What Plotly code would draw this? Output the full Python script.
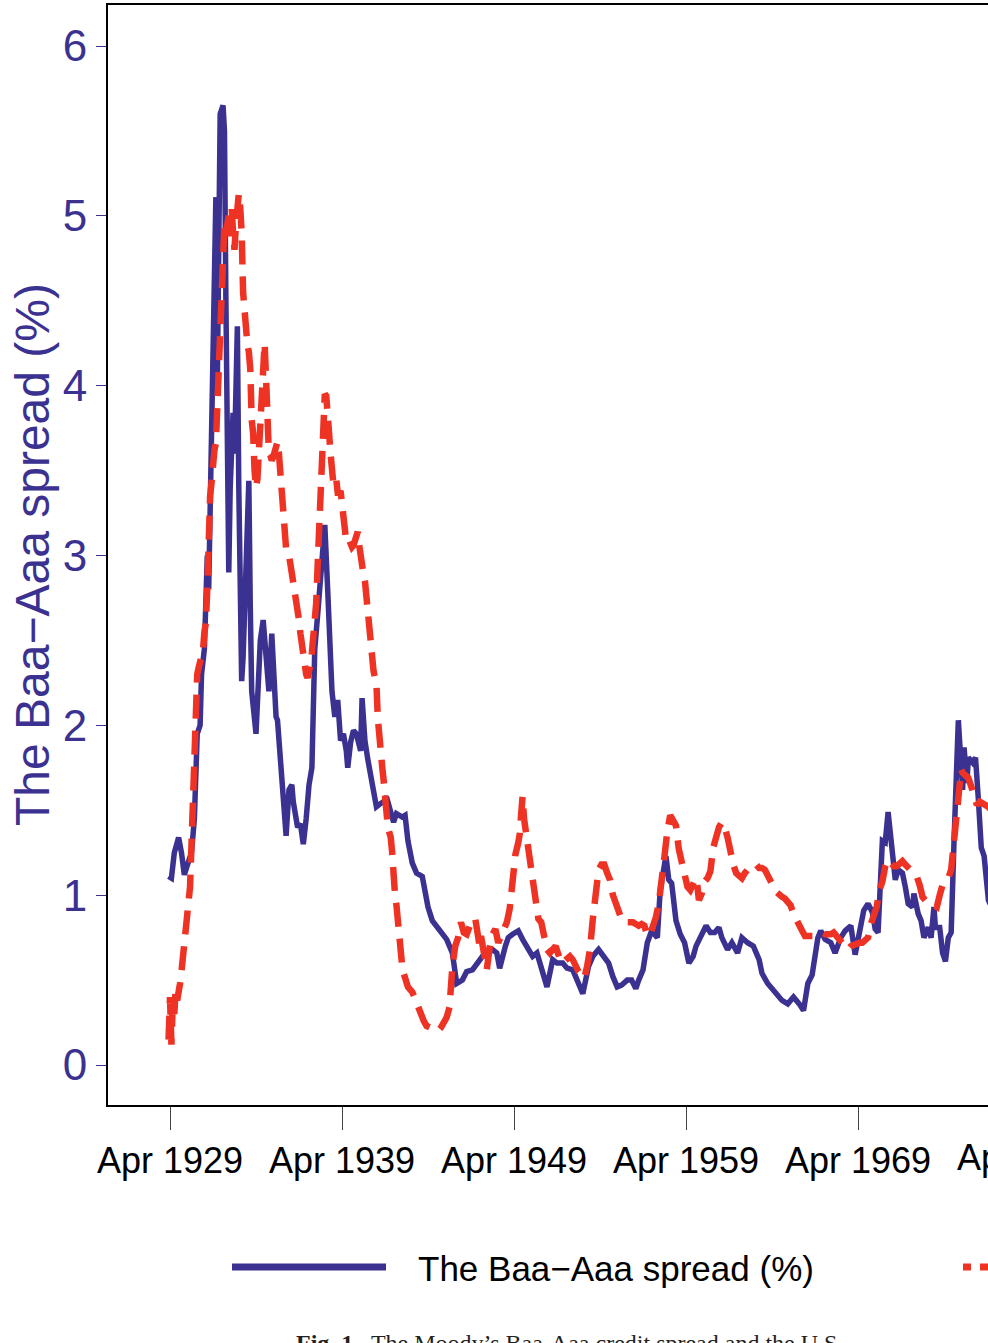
import plotly.graph_objects as go

# ---------------- data ----------------
spread_dates = [
    "1929-03","1929-05","1929-07","1929-10","1929-12","1930-02","1930-05","1930-07","1930-09","1930-10",
    "1930-11","1931-01","1931-02","1931-04","1931-06","1931-07","1931-09","1931-10","1931-11","1931-12",
    "1932-01","1932-02","1932-03","1932-05","1932-06","1932-07","1932-08","1932-09","1932-10","1932-12",
    "1933-01","1933-03","1933-04","1933-05","1933-06","1933-07","1933-09","1933-11","1933-12","1934-01",
    "1934-04","1934-05","1934-07","1934-09","1934-11","1935-01","1935-03","1935-05","1935-06","1935-07",
    "1935-09","1935-11","1936-01","1936-03","1936-05","1936-06","1936-09","1936-11","1937-01","1937-03",
    "1937-05","1937-07","1937-09","1937-11","1938-01","1938-04","1938-06","1938-08","1938-09","1938-11",
    "1939-01","1939-03","1939-05","1939-07","1939-08","1939-10","1939-12","1940-02","1940-05","1940-06",
    "1940-08","1940-10","1940-12","1941-02","1941-04","1941-07","1941-09","1941-11","1942-02","1942-04",
    "1942-06","1942-10","1942-12","1943-02","1943-05","1943-08","1943-12","1944-02","1944-04","1944-07",
    "1944-11","1945-02","1945-05","1945-09","1945-12","1946-04","1946-07","1946-11","1947-02","1947-06",
    "1947-09","1948-01","1948-04","1948-06","1948-10","1948-12","1949-03","1949-07","1949-10","1950-01",
    "1950-05","1950-08","1950-12","1951-03","1951-07","1951-10","1952-02","1952-05","1952-09","1952-12",
    "1953-02","1953-04","1953-08","1953-11","1954-03","1954-06","1954-10","1955-01","1955-04","1955-07",
    "1955-11","1956-02","1956-05","1956-07","1956-10","1957-01","1957-04","1957-08","1957-10","1958-02",
    "1958-04","1958-06","1958-09","1958-12","1959-03","1959-06","1959-09","1959-11","1960-02","1960-06",
    "1960-09","1960-12","1961-03","1961-05","1961-09","1961-12","1962-04","1962-07","1962-11","1963-03",
    "1963-07","1963-09","1964-01","1964-04","1964-08","1964-11","1965-03","1965-07","1965-11","1966-02",
    "1966-05","1966-08","1966-12","1967-02","1967-05","1967-09","1967-12","1968-04","1968-07","1968-11",
    "1969-02","1969-04","1969-08","1969-11","1970-02","1970-04","1970-06","1970-09","1970-11","1971-01",
    "1971-03","1971-06","1971-08","1971-11","1972-01","1972-03","1972-06","1972-07","1972-10","1972-12",
    "1973-02","1973-05","1973-07","1973-09","1973-10","1974-01","1974-03","1974-05","1974-07","1974-09",
    "1974-11","1975-01","1975-02","1975-05","1975-06","1975-08","1975-09","1975-12","1976-02","1976-04",
    "1976-06","1976-08","1976-11","1977-03",
]
spread_values = [
    1.11,1.10,1.25,1.34,1.25,1.12,1.20,1.25,1.45,1.70,
    1.95,2.00,2.30,2.45,3.00,2.80,3.60,4.05,4.40,5.11,
    4.00,4.80,5.60,5.65,5.50,4.50,3.50,2.90,3.40,3.84,
    3.60,4.35,3.40,2.60,2.26,2.40,3.00,3.44,2.70,2.20,
    1.95,2.20,2.50,2.62,2.40,2.20,2.54,2.20,2.05,2.03,
    1.80,1.60,1.35,1.62,1.65,1.55,1.40,1.42,1.30,1.45,
    1.65,1.75,2.45,2.65,2.90,3.18,2.80,2.44,2.20,2.05,
    2.15,1.91,1.95,1.85,1.75,1.90,1.97,1.95,1.85,2.16,
    1.91,1.80,1.70,1.58,1.52,1.54,1.55,1.58,1.48,1.43,
    1.48,1.46,1.47,1.32,1.19,1.13,1.11,1.01,0.93,0.85,
    0.81,0.77,0.74,0.66,0.48,0.50,0.55,0.56,0.60,0.64,
    0.65,0.68,0.66,0.57,0.70,0.75,0.77,0.79,0.74,0.70,
    0.64,0.66,0.56,0.46,0.62,0.60,0.60,0.57,0.56,0.50,
    0.44,0.42,0.58,0.64,0.68,0.64,0.60,0.52,0.46,0.47,
    0.50,0.50,0.45,0.50,0.56,0.72,0.79,0.75,1.03,1.23,
    1.09,1.07,0.85,0.77,0.72,0.60,0.64,0.70,0.75,0.82,
    0.78,0.78,0.81,0.75,0.68,0.72,0.66,0.75,0.72,0.70,
    0.62,0.54,0.48,0.45,0.42,0.38,0.36,0.40,0.36,0.32,
    0.48,0.53,0.75,0.79,0.74,0.72,0.66,0.75,0.79,0.82,
    0.65,0.74,0.91,0.95,0.90,0.80,0.78,1.32,1.31,1.49,
    1.34,1.09,1.15,1.13,1.05,0.95,0.93,1.01,0.89,0.85,
    0.75,0.81,0.75,0.93,0.81,0.81,0.66,0.61,0.75,0.78,
    1.32,1.72,2.03,1.62,1.87,1.66,1.81,1.78,1.81,1.56,
    1.28,1.23,0.97,0.90,
]

second_dates = [
    "1929-03","1929-04","1929-05","1929-06","1929-07","1929-08","1929-09","1929-10","1929-11","1929-12",
    "1930-01","1930-02","1930-03","1930-04","1930-05","1930-06","1930-07","1930-08","1930-09","1930-10",
    "1930-11","1930-12","1931-01","1931-02","1931-03","1931-04","1931-05","1931-06","1931-07","1931-08",
    "1931-09","1931-10","1931-11","1931-12","1932-01","1932-02","1932-03","1932-04","1932-05","1932-06",
    "1932-07","1932-08","1932-09","1932-10","1932-11","1932-12","1933-01","1933-02","1933-03","1933-04",
    "1933-05","1933-06","1933-07","1933-08","1933-09","1933-10","1933-11","1933-12","1934-01","1934-02",
    "1934-03","1934-04","1934-05","1934-06","1934-07","1934-08","1934-09","1934-10","1934-11","1934-12",
    "1935-01","1935-02","1935-03","1935-04","1935-05","1935-06","1935-07","1935-08","1935-09","1935-10",
    "1935-11","1935-12","1936-01","1936-02","1936-03","1936-04","1936-05","1936-06","1936-07","1936-08",
    "1936-09","1936-10","1936-11","1936-12","1937-01","1937-02","1937-03","1937-04","1937-05","1937-06",
    "1937-07","1937-08","1937-09","1937-10","1937-11","1937-12","1938-01","1938-02","1938-03","1938-04",
    "1938-05","1938-06","1938-07","1938-08","1938-09","1938-10","1938-11","1938-12","1939-01","1939-02",
    "1939-03","1939-04","1939-05","1939-06","1939-07","1939-08","1939-09","1939-10","1939-11","1939-12",
    "1940-01","1940-02","1940-03","1940-04","1940-05","1940-06","1940-07","1940-08","1940-09","1940-10",
    "1940-11","1940-12","1941-01","1941-02","1941-03","1941-04","1941-05","1941-06","1941-07","1941-08",
    "1941-09","1941-10","1941-11","1941-12","1942-01","1942-02","1942-03","1942-04","1942-05","1942-06",
    "1942-07","1942-08","1942-09","1942-10","1942-11","1942-12","1943-01","1943-02","1943-03",
    "1943-05","1943-07","1943-09","1943-11","1944-01","1944-03","1944-05","1944-07","1944-09","1944-11",
    "1945-01","1945-03","1945-05","1945-07","1945-08","1945-09","1945-11","1946-01","1946-03","1946-05",
    "1946-07","1946-09","1946-11","1947-01","1947-03","1947-04","1947-05","1947-07","1947-09","1947-11",
    "1948-01","1948-03","1948-05","1948-07","1948-09","1948-11","1949-01","1949-03","1949-05","1949-07",
    "1949-08","1949-09","1949-10","1949-11","1950-01","1950-03","1950-05","1950-07","1950-09","1950-11",
    "1951-01","1951-03","1951-05","1951-07","1951-09","1951-11","1952-01","1952-03","1952-05","1952-07",
    "1952-09","1952-11","1953-01","1953-03","1953-05","1953-07","1953-09","1953-11","1954-01","1954-03",
    "1954-05","1954-07","1954-09","1954-11","1955-01","1955-03","1955-05","1955-07","1955-09","1955-11",
    "1956-01","1956-03","1956-05","1956-07","1956-09","1956-11","1957-01","1957-03","1957-05","1957-07",
    "1957-09","1957-11","1958-01","1958-03","1958-04","1958-05","1958-07","1958-09","1958-11","1959-01",
    "1959-03","1959-05","1959-07","1959-09","1959-11","1959-12","1960-01","1960-03","1960-05","1960-07",
    "1960-09","1960-11","1961-01","1961-03","1961-05","1961-07","1961-09","1961-11","1962-01","1962-03",
    "1962-05","1962-07","1962-09","1962-11","1963-01","1963-03","1963-05","1963-07","1963-09","1963-11",
    "1964-01","1964-03","1964-05","1964-07","1964-09","1964-11","1965-01","1965-03","1965-05","1965-07",
    "1965-09","1965-11","1966-01","1966-03","1966-05","1966-07","1966-09","1966-11","1967-01","1967-03",
    "1967-05","1967-07","1967-09","1967-11","1968-01","1968-03","1968-05","1968-07","1968-09","1968-11",
    "1969-01","1969-03","1969-05","1969-07","1969-09","1969-11","1970-01","1970-03","1970-05","1970-07",
    "1970-09","1970-11","1971-01","1971-03","1971-05","1971-07","1971-09","1971-11","1972-01","1972-03",
    "1972-05","1972-07","1972-09","1972-11","1973-01","1973-03","1973-05","1973-07","1973-09","1973-11",
    "1974-01","1974-03","1974-05","1974-07","1974-09","1974-10","1974-11","1974-12","1975-01","1975-02",
    "1975-03","1975-04","1975-05","1975-07","1975-09","1975-11","1976-01","1976-03","1976-05","1976-07",
    "1976-09","1976-11","1977-01",
]
second_values = [
    0.15,0.40,0.12,0.38,0.30,0.45,0.38,0.42,0.48,0.55,
    0.62,0.70,0.78,0.85,0.95,1.05,1.30,1.60,1.75,1.95,
    2.30,2.34,2.37,2.40,2.44,2.55,2.60,2.80,3.23,3.35,
    3.43,3.60,3.62,3.66,3.84,4.05,4.31,4.50,4.74,4.96,
    4.90,4.95,5.00,4.88,5.05,4.90,4.80,4.95,5.05,5.13,
    5.05,4.90,4.55,4.40,4.28,4.24,4.20,4.10,3.80,3.72,
    3.50,3.40,3.45,3.65,3.78,3.96,4.23,4.25,4.05,3.70,
    3.60,3.59,3.56,3.58,3.61,3.64,3.67,3.60,3.47,3.35,
    3.23,3.08,3.04,3.02,3.00,2.95,2.90,2.83,2.79,2.75,
    2.70,2.62,2.54,2.46,2.39,2.34,2.30,2.28,2.31,2.36,
    2.43,2.50,2.58,2.72,2.94,3.18,3.40,3.62,3.83,3.95,
    3.94,3.86,3.72,3.60,3.45,3.42,3.42,3.45,3.37,3.37,
    3.38,3.29,3.20,3.13,3.08,3.09,3.09,3.07,3.05,3.06,
    3.08,3.10,3.14,3.06,2.98,2.94,2.89,2.85,2.75,2.69,
    2.59,2.50,2.40,2.32,2.28,2.25,2.04,1.90,1.82,1.76,
    1.68,1.55,1.48,1.40,1.37,1.34,1.25,1.08,1.00,0.94,
    0.82,0.73,0.65,0.58,0.54,0.50,0.48,0.46,0.45,
    0.43,0.39,0.34,0.30,0.26,0.23,0.22,0.21,0.20,0.20,
    0.22,0.25,0.28,0.34,0.48,0.58,0.70,0.75,0.84,0.78,
    0.77,0.83,0.86,0.86,0.76,0.70,0.76,0.68,0.56,0.69,
    0.77,0.80,0.72,0.76,0.80,0.84,0.92,1.10,1.24,1.31,
    1.36,1.48,1.58,1.45,1.32,1.19,1.08,0.97,0.86,0.84,
    0.75,0.68,0.66,0.68,0.70,0.65,0.60,0.61,0.63,0.64,
    0.62,0.58,0.55,0.53,0.51,0.58,0.68,0.86,0.98,1.15,
    1.18,1.18,1.13,1.09,1.00,0.95,0.90,0.86,0.84,0.84,
    0.84,0.84,0.83,0.82,0.83,0.82,0.76,0.77,0.82,0.87,
    0.95,1.07,1.23,1.38,1.44,1.47,1.44,1.41,1.27,1.18,
    1.12,1.05,1.03,1.07,1.10,1.05,0.97,1.01,1.08,1.10,
    1.14,1.28,1.36,1.40,1.43,1.40,1.34,1.24,1.18,1.13,
    1.11,1.10,1.13,1.15,1.15,1.16,1.18,1.16,1.16,1.15,
    1.11,1.08,1.05,1.02,1.00,0.99,0.98,0.96,0.94,0.89,
    0.85,0.82,0.79,0.76,0.76,0.76,0.76,0.77,0.78,0.78,
    0.77,0.77,0.77,0.78,0.76,0.74,0.72,0.70,0.68,0.70,
    0.71,0.72,0.72,0.72,0.74,0.75,0.83,0.88,0.93,1.03,
    1.08,1.17,1.21,1.19,1.17,1.17,1.18,1.20,1.18,1.16,
    1.14,1.13,1.11,1.06,0.99,0.97,0.97,0.95,0.94,0.93,
    1.00,1.06,1.08,1.10,1.15,1.24,1.33,1.45,1.57,1.65,
    1.72,1.74,1.72,1.70,1.69,1.64,1.57,1.53,1.55,1.54,
    1.54,1.52,1.50,
]

tick_years = [1929, 1939, 1949, 1959, 1969]
tick_labels = ["Apr 1929", "Apr 1939", "Apr 1949", "Apr 1959", "Apr 1969"]
offscreen_tick_label = "Apr 1979"
y_ticks = [0, 1, 2, 3, 4, 5, 6]

series_names = ["The Baa\u2212Aaa spread (%)", "Second series"]
y_title = "The Baa\u2212Aaa spread (%)"
caption_text = "<b>Fig. 1.</b>  The Moody\u2019s Baa-Aaa credit spread and the U.S."

# ---------------- styling ----------------
BLUE = "#3B3190"
RED = "#EE3325"
SANS = "Liberation Sans, Arial, Helvetica, sans-serif"
XFONT = 36


def to_year(d):
    y, m = d.split("-")
    return int(y) + (int(m) - 1) / 12.0


x_blue = [to_year(d) for d in spread_dates]
x_red = [to_year(d) for d in second_dates]

fig = go.Figure()
fig.add_trace(go.Scatter(x=x_blue, y=spread_values, mode="lines", name=series_names[0],
                         line=dict(color=BLUE, width=5.5), showlegend=False))
fig.add_trace(go.Scatter(x=x_red, y=second_values, mode="lines", name=series_names[1],
                         line=dict(color=RED, width=6.5, dash="24px,12px"), showlegend=False))

W, H = 988, 1343
L, R, T, B = 108, 0, 5, 238
plot_w = W - L - R
plot_h = H - T - B

# x-axis: Apr 1929 at px 170, 17.2 px per year, window cut at the right edge
px_per_year = 17.2
x0 = 1929.25 - (170 - L) / px_per_year
x1 = 1929.25 + (W - 170) / px_per_year
# y-axis: 0 at px 1065, 6 at px 46
px_per_unit = (1065 - 46) / 6.0
y0 = -(H - B - 1065) / px_per_unit
y1 = (1065 - T) / px_per_unit


def px_to_paper_x(px):
    return (px - L) / plot_w


def py_to_paper_y(py):
    return (H - B - py) / plot_h


fig.update_layout(
    width=W, height=H,
    margin=dict(l=L, r=R, t=T, b=B, pad=0),
    paper_bgcolor="white", plot_bgcolor="white",
    showlegend=False,
    xaxis=dict(
        range=[x0, x1],
        tickmode="array",
        tickvals=[y + 0.25 for y in tick_years],
        ticktext=tick_labels,
        tickangle=0,
        ticks="outside", ticklen=23, tickwidth=1, tickcolor="#444",
        ticklabelstandoff=0,
        showline=True, linecolor="black", linewidth=2, mirror=True,
        showgrid=False, zeroline=False,
        tickfont=dict(family=SANS, size=XFONT, color="black"),
    ),
    yaxis=dict(
        range=[y0, y1],
        tickmode="array", tickvals=y_ticks, ticktext=[str(v) for v in y_ticks],
        ticks="outside", ticklen=10, tickwidth=1, tickcolor=BLUE,
        showline=True, linecolor="black", linewidth=2, mirror=False,
        showgrid=False, zeroline=False,
        tickfont=dict(family=SANS, size=44, color=BLUE),
    ),
)

annotations = [
    # y-axis title
    dict(text=y_title, xref="paper", yref="paper", x=px_to_paper_x(32), y=0.5,
         xanchor="center", yanchor="middle", textangle=-90, showarrow=False,
         font=dict(family=SANS, size=48, color=BLUE)),
    # tick label that is only partly inside the window
    dict(text=offscreen_tick_label, xref="paper", yref="paper",
         x=px_to_paper_x(1030), y=py_to_paper_y(1157), xanchor="center", yanchor="middle",
         showarrow=False, font=dict(family=SANS, size=XFONT, color="black")),
    # legend text
    dict(text=series_names[0], xref="paper", yref="paper",
         x=px_to_paper_x(416), y=py_to_paper_y(1268), xanchor="left", yanchor="middle",
         showarrow=False, font=dict(family=SANS, size=35, color="black")),
    # caption
    dict(text=caption_text, xref="paper", yref="paper",
         x=px_to_paper_x(294), y=py_to_paper_y(1328), xanchor="left", yanchor="top",
         showarrow=False, font=dict(family="Liberation Serif, serif", size=24, color="#231F20")),
]
fig.update_layout(annotations=annotations)

shapes = [
    dict(type="line", xref="paper", yref="paper",
         x0=px_to_paper_x(232), x1=px_to_paper_x(386),
         y0=py_to_paper_y(1267), y1=py_to_paper_y(1267),
         line=dict(color=BLUE, width=7)),
    dict(type="line", xref="paper", yref="paper",
         x0=px_to_paper_x(963), x1=px_to_paper_x(1150),
         y0=py_to_paper_y(1267), y1=py_to_paper_y(1267),
         line=dict(color=RED, width=7, dash="8px,9px")),
]
fig.update_layout(shapes=shapes)

fig.write_html("out.html")
